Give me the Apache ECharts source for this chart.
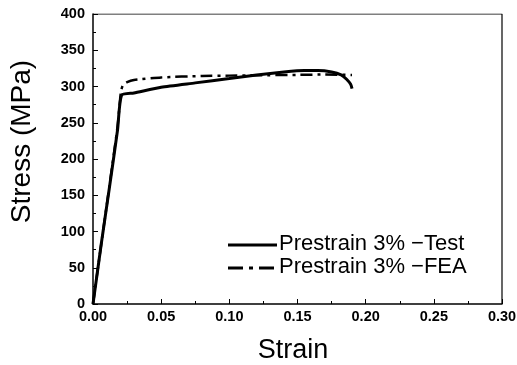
<!DOCTYPE html>
<html><head><meta charset="utf-8">
<script src="https://cdn.jsdelivr.net/npm/echarts@6/dist/echarts.min.js"></script>
<style>html,body{margin:0;padding:0;background:#fff}#c{width:517px;height:365px}</style>
</head><body><div id="c"></div>
<script>
const testStrain = [0, 0.006, 0.012, 0.018, 0.021, 0.03, 0.05, 0.075, 0.1, 0.12, 0.14, 0.155, 0.165, 0.175, 0.182, 0.186, 0.189, 0.19];
const testStress = [0, 82, 160, 240, 288, 291, 299, 305, 311, 316, 320, 322, 322, 320, 316, 310, 303, 297];
const feaStrain = [0, 0.006, 0.012, 0.018, 0.0205, 0.022, 0.025, 0.03, 0.05, 0.08, 0.1, 0.12, 0.15, 0.17, 0.19];
const feaStress = [0, 82, 162, 245, 293, 302, 306, 309, 312.5, 314.5, 315, 315.5, 316, 316.5, 316];
const seriesNames = ['Prestrain 3% \u2212Test', 'Prestrain 3% \u2212FEA'];

const chart = echarts.init(document.getElementById('c'));
const font = '"Liberation Sans", Arial, sans-serif';
const legendText = (y, t) => ({type: 'text', left: 279, top: y - 12.5,
  style: {text: t, fontFamily: font, fontSize: 22, fill: '#000'}});
chart.setOption({
  animation: false,
  grid: {left: 93, right: 15, top: 14, bottom: 61, outerBoundsMode: 'none', containLabel: false},
  graphic: [
    {type: 'line', shape: {x1: 228, y1: 245, x2: 277, y2: 245}, style: {stroke: '#000', lineWidth: 3}},
    {type: 'line', shape: {x1: 228, y1: 268, x2: 277, y2: 268}, style: {stroke: '#000', lineWidth: 3, lineDash: [15, 6, 4, 6]}},
    legendText(245, seriesNames[0]),
    legendText(268, seriesNames[1])
  ],
  xAxis: {
    type: 'value', min: 0, max: 0.3, interval: 0.05,
    name: 'Strain', nameLocation: 'middle', nameGap: 33,
    nameTextStyle: {fontFamily: font, fontSize: 27, color: '#000', padding: [0, 9, 0, 0]},
    axisLine: {show: true, onZero: false, lineStyle: {color: '#000', width: 1.5}},
    axisTick: {inside: true, length: 5, lineStyle: {color: '#000'}},
    minorTick: {show: true, splitNumber: 2, length: 3, lineStyle: {color: '#000'}},
    splitLine: {show: false},
    axisLabel: {fontFamily: font, fontSize: 14.5, fontWeight: 'bold', color: '#000', margin: 5, formatter: v => v.toFixed(2)}
  },
  yAxis: {
    type: 'value', min: 0, max: 400, interval: 50,
    name: 'Stress (MPa)', nameLocation: 'middle', nameGap: 57, nameRotate: 90,
    nameTextStyle: {fontFamily: font, fontSize: 28, color: '#000', padding: [0, 0, 0, 35]},
    axisLine: {show: true, lineStyle: {color: '#000', width: 1.5}},
    axisTick: {inside: true, length: 5, lineStyle: {color: '#000'}},
    minorTick: {show: true, splitNumber: 2, length: 3, lineStyle: {color: '#000'}},
    splitLine: {show: false},
    axisLabel: {fontFamily: font, fontSize: 14.5, fontWeight: 'bold', color: '#000', margin: 8}
  },
  series: [
    {name: seriesNames[0], type: 'line', symbol: 'none', smooth: 0.2,
     data: testStrain.map((x, i) => [x, testStress[i]]),
     lineStyle: {color: '#000', width: 3}, itemStyle: {color: '#000'}},
    {name: seriesNames[1], type: 'line', symbol: 'none', smooth: 0.2,
     data: feaStrain.map((x, i) => [x, feaStress[i]]),
     lineStyle: {color: '#000', width: 2.5, type: [12, 5, 3, 5]}, itemStyle: {color: '#000'}},
    {type: 'line', silent: true, symbol: 'none', data: [[0, 400], [0.3, 400], [0.3, 0]],
     lineStyle: {color: '#000', width: 1.2}, tooltip: {show: false}}
  ]
});
</script></body></html>
